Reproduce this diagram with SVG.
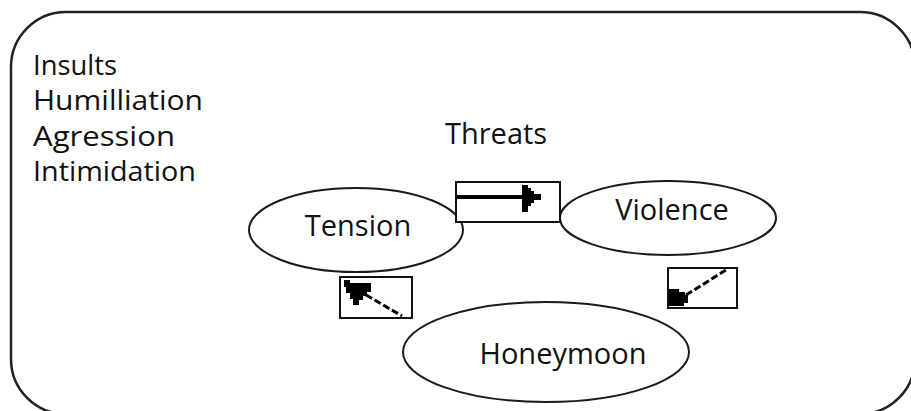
<svg xmlns="http://www.w3.org/2000/svg" width="911" height="411" viewBox="0 0 911 411">
<style>
.t{font-family:"Open Sans","Liberation Sans",sans-serif;font-size:29px;fill:#111}
.l{font-size:28px}
.n{text-anchor:middle}
.e{fill:#fff;stroke:#1a1a1a;stroke-width:2}
.b{fill:#fff;stroke:#111;stroke-width:2}
.d{stroke:#000;stroke-width:3;fill:none;stroke-dasharray:7 3}
</style>
<rect x="11" y="12" width="904" height="402" rx="55" ry="55" fill="#fff" stroke="#222" stroke-width="2.5"/>
<g id="labels">
<text class="t l" x="33" y="75" textLength="84" lengthAdjust="spacingAndGlyphs">Insults</text>
<text class="t l" x="33" y="110" textLength="170" lengthAdjust="spacingAndGlyphs">Humilliation</text>
<text class="t l" x="33" y="146" textLength="142" lengthAdjust="spacingAndGlyphs">Agression</text>
<text class="t l" x="33" y="181" textLength="163" lengthAdjust="spacingAndGlyphs">Intimidation</text>
<text class="t" x="445" y="144">Threats</text>
</g>
<g id="tension"><ellipse class="e" cx="356" cy="230" rx="107" ry="42"/><text class="t n" x="358" y="236" font-size="31">Tension</text></g>
<g id="violence"><ellipse class="e" cx="668" cy="218" rx="108" ry="37"/><text class="t n" x="672" y="220" font-size="32">Violence</text></g>
<g id="honeymoon"><ellipse class="e" cx="546" cy="352" rx="143" ry="50"/><text class="t n" x="563" y="364" font-size="32">Honeymoon</text></g>
<g id="connectors">
<g id="c1">
<rect class="b" x="456" y="182" width="104" height="40"/>
<rect x="457" y="195" width="66" height="4" fill="#000"/>
<polygon points="522,185 528,185 528,188 531,188 531,191 534,191 534,194 541,194 541,200 534,200 534,203 531,203 531,206 528,206 528,212 522,212" fill="#000"/>
</g>
<g id="c2">
<rect class="b" x="340" y="277" width="72" height="41"/>
<polygon points="344,280 350,280 350,283 371,283 371,292 367,292 367,296 363,296 363,300 359,300 359,305 353,305 353,299 350,299 350,293 346,293 346,287 344,287" fill="#000"/>
<path class="d" d="M366,295 L402,316"/>
</g>
<g id="c3">
<rect class="b" x="668" y="268" width="69" height="40"/>
<polygon points="669,289 679,289 679,292 685,292 685,295 688,295 688,303 684,303 684,306 669,306" fill="#000"/>
<path class="d" d="M686,295 L726,270"/>
</g>
</g>
</svg>
